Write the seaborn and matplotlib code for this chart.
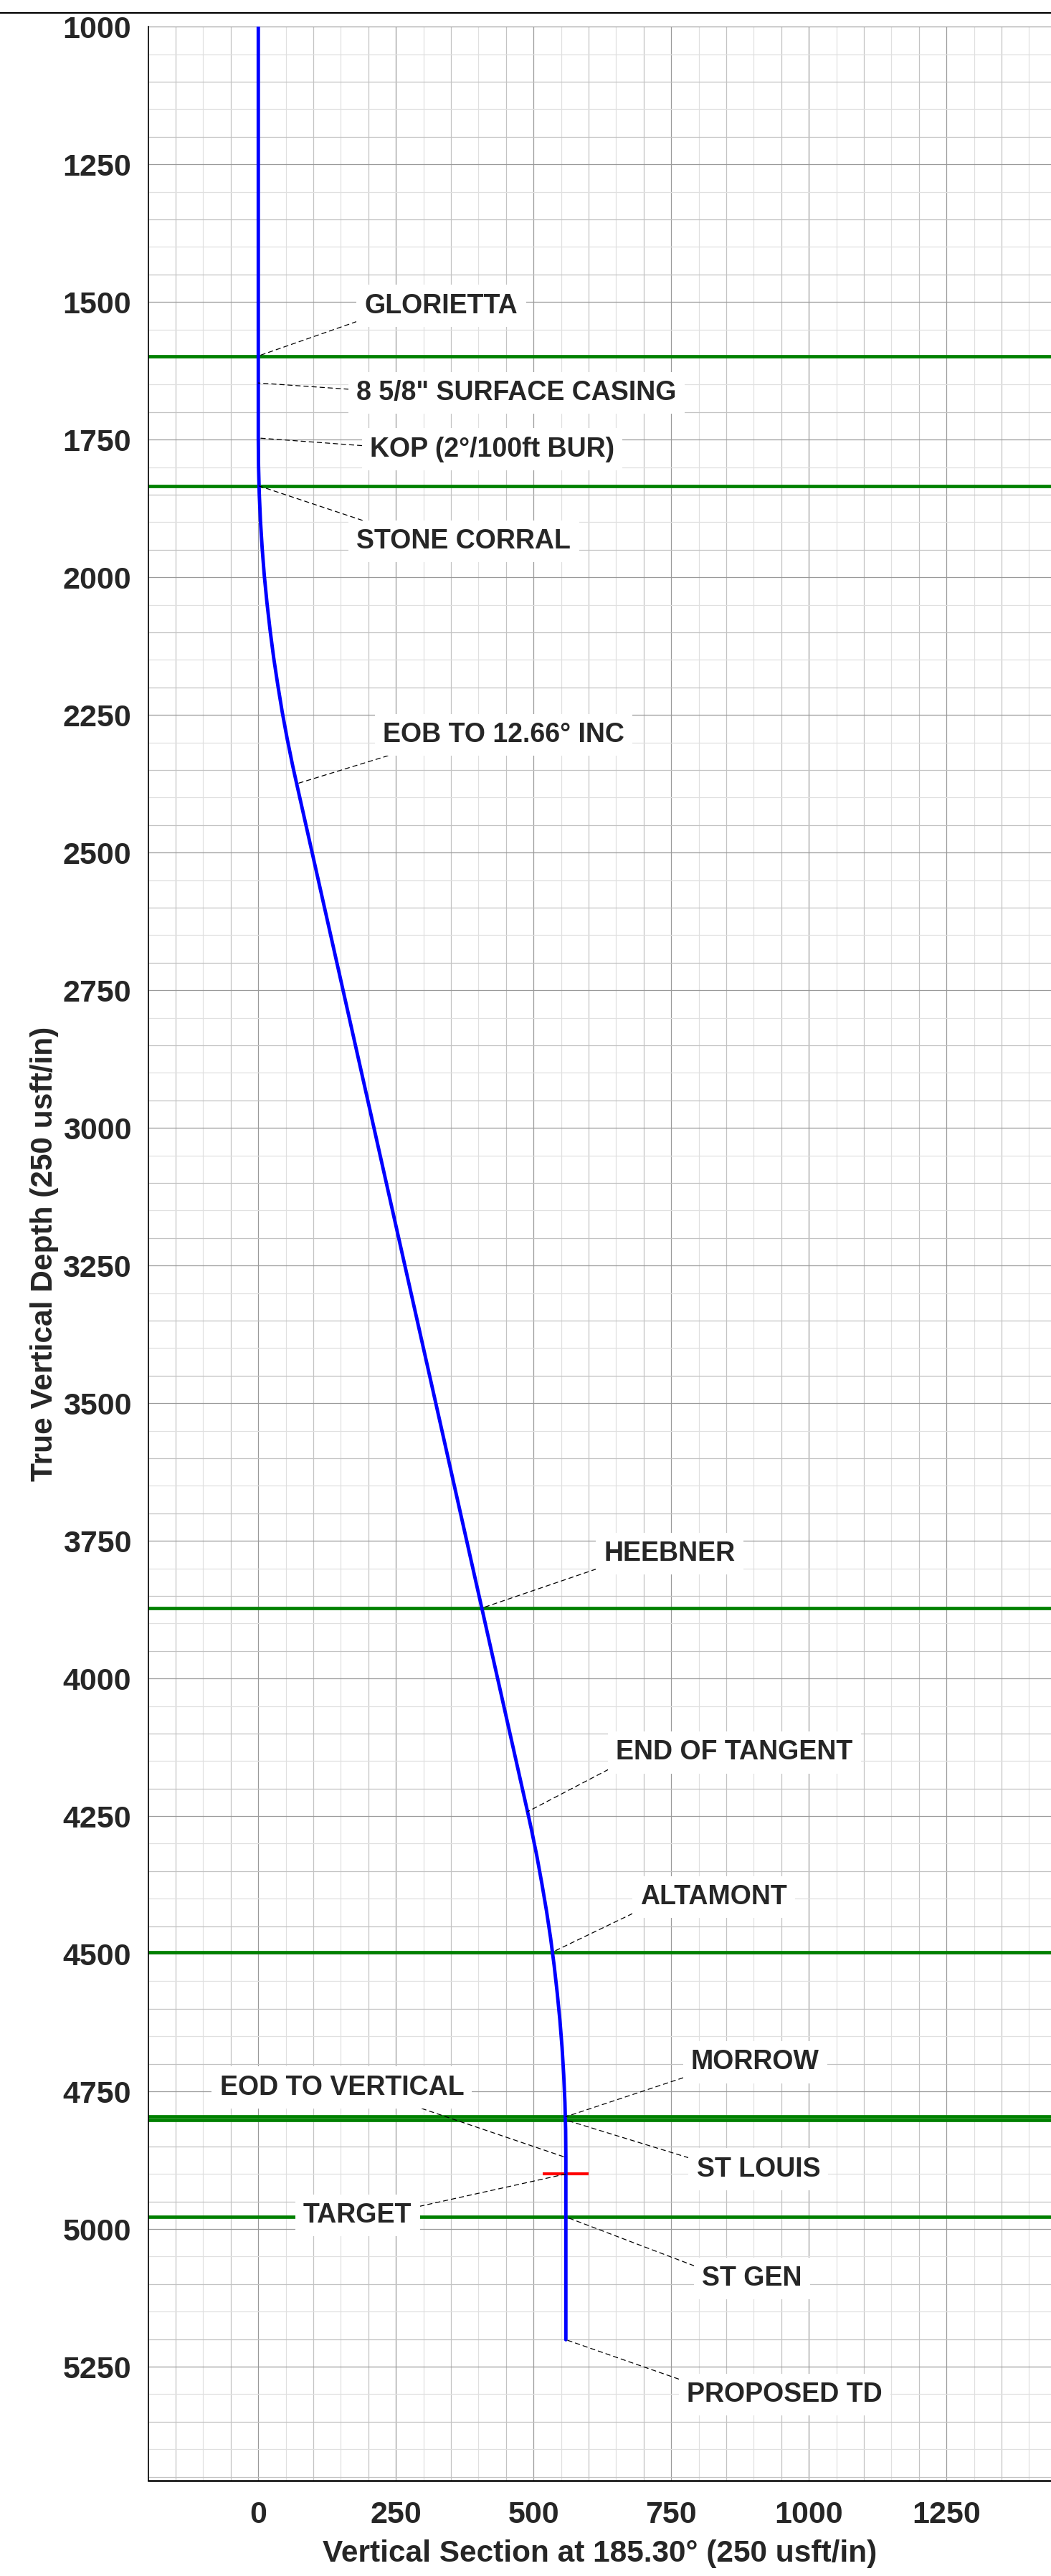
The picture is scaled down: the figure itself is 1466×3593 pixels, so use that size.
import numpy as np
import matplotlib
matplotlib.use("Agg")
import matplotlib.pyplot as plt
import seaborn as sns
from matplotlib.lines import Line2D
from matplotlib.ticker import MultipleLocator

# ─────────────────────────────────────────────
# Data
# ─────────────────────────────────────────────
# well path (vertical section ft, TVD ft)
path_vs = [0.0, 0.0, 0.4, 1.7, 3.9, 7.0, 10.9, 15.7, 21.4, 27.9, 35.3, 43.5,
           52.6, 62.6, 69.7,
           489.0, 496.0, 506.0, 515.1, 523.4, 530.8, 537.3, 542.9, 547.7,
           551.7, 554.7, 556.9, 558.2, 558.6, 558.6]
path_tvd = [1000, 1747, 1797, 1847, 1897, 1947, 1997, 2046, 2096, 2146, 2195,
            2245, 2294, 2343, 2375,
            4242, 4274, 4323, 4373, 4422, 4471, 4521, 4571, 4620,
            4670, 4720, 4770, 4820, 4870, 5201]

# formation tops (TVD)
top_names = ["GLORIETTA", "STONE CORRAL", "HEEBNER", "ALTAMONT",
             "MORROW", "ST LOUIS", "ST GEN"]
top_tvd = [1598, 1834, 3872, 4497, 4796, 4802, 4978]

# target
target_vs = 558.6
target_tvd = 4900

# labelled points on the well
note_text = ["GLORIETTA", '8 5/8" SURFACE CASING', "KOP (2°/100ft BUR)",
             "STONE CORRAL", "EOB TO 12.66° INC", "HEEBNER", "END OF TANGENT",
             "ALTAMONT", "MORROW", "EOD TO VERTICAL", "ST LOUIS", "TARGET",
             "ST GEN", "PROPOSED TD"]
note_vs = [0.0, 0.0, 0.0, 1.3, 69.7, 406.6, 489.0,
           534.3, 558.6, 558.6, 558.6, 558.6, 558.6, 558.6]
note_tvd = [1598, 1647, 1747, 1834, 2375, 3872, 4242,
            4497, 4796, 4870, 4802, 4900, 4978, 5201]

# label placement (text left edge, text centre depth, leader anchor on box)
label_x = [193, 178.5, 202.7, 178.5, 226, 628, 650, 694, 786, -70, 796, 81.6, 806, 778]
label_y = [1507, 1665, 1767.5, 1934.6, 2286, 3773, 4134.5, 4396.7, 4697, 4743,
           4891.4, 4975, 5089.6, 5301]
label_rel = [(0, 0), (0, 0.62), (0, 0.62), (0.14, 1), (0.13, 0), (0, 0), (0, 0),
             (0, 0), (0, 0), (0.73, 0), (0, 0.85), (1, 0.78), (0, 0.87), (0, 1)]

# ─────────────────────────────────────────────
# Style
# ─────────────────────────────────────────────
sns.set_theme(style="white")
plt.rcParams["font.family"] = ["Liberation Sans", "DejaVu Sans"]
plt.rcParams["font.weight"] = "bold"
plt.rcParams["axes.labelweight"] = "bold"

W, H = 1466, 3593
fig = plt.figure(figsize=(W / 100, H / 100), dpi=100)
x_left, x_right = -200, 1440
y_top, y_bot = 1000, 5457
ax = fig.add_axes([206.7 / W, 1 - 3460 / H, (1466.2 - 206.7) / W, (3460 - 37.3) / H])

# grid: every 50 ft, darker on 250s, mid on 100/200 offsets
GRID_DARK, GRID_MID, GRID_LIGHT = "#9a9a9a", "#c3c3c3", "#e0e0e0"


def grid_colour(v):
    r = v % 250
    if r == 0:
        return GRID_DARK
    if r in (100, 200):
        return GRID_MID
    return GRID_LIGHT


for v in np.arange(-200, x_right + 1, 50):
    ax.axvline(v, color=grid_colour(v), lw=0.9, zorder=0)
for v in np.arange(1000, y_bot + 1, 50):
    ax.axhline(v, color=grid_colour(v), lw=0.9, zorder=0)

# formation tops
for t in top_tvd:
    ax.axhline(t, color="#008000", lw=3.4, solid_capstyle="round", zorder=2)

# target marker
ax.plot([target_vs], [target_tvd], marker="_", color="red", markersize=46,
        markeredgewidth=3.0, zorder=2.5)

# well path
sns.lineplot(x=path_vs, y=path_tvd, sort=False, estimator=None, color="blue",
             lw=3.5, ax=ax, zorder=3, solid_capstyle="round")

# labels
for txt, px, py, tx, ty, rel in zip(note_text, note_vs, note_tvd,
                                    label_x, label_y, label_rel):
    ax.annotate(txt, xy=(px, py), xytext=(tx, ty), ha="left", va="center",
                fontsize=27, fontweight="bold", zorder=5,
                bbox=dict(boxstyle="square,pad=0.3", fc="white", ec="none"),
                arrowprops=dict(arrowstyle="-", color="black", lw=0.9,
                                linestyle=(0, (5, 4)), relpos=rel,
                                shrinkA=0, shrinkB=0))

# axes
ax.set_xlim(x_left, x_right)
ax.set_ylim(y_bot, y_top)
ax.xaxis.set_major_locator(MultipleLocator(250))
ax.xaxis.set_minor_locator(MultipleLocator(50))
ax.yaxis.set_major_locator(MultipleLocator(250))
ax.yaxis.set_minor_locator(MultipleLocator(50))
ax.tick_params(axis="both", which="major", length=14, width=0.9, color="black",
               labelsize=31, direction="out", pad=3)
ax.tick_params(axis="both", which="minor", length=7, width=0.9, color="black",
               direction="out")
ax.tick_params(axis="x", which="major", pad=6)
ax.grid(False)

for side in ["top", "right"]:
    ax.spines[side].set_visible(False)
ax.spines["left"].set_color("black")
ax.spines["left"].set_linewidth(1.2)
ax.spines["bottom"].set_color("black")
ax.spines["bottom"].set_linewidth(1.8)

ax.set_xlabel("Vertical Section at 185.30° (250 usft/in)", fontsize=30.5,
              fontweight="bold", labelpad=10)
ax.set_ylabel("True Vertical Depth (250 usft/in)", fontsize=30.5,
              fontweight="bold", labelpad=4)

# page frame line above the plot
fig.add_artist(Line2D([0, 1], [1 - 18.3 / H, 1 - 18.3 / H],
                      transform=fig.transFigure, color="black", lw=1.6))

fig.savefig("out.png", dpi=100)
plt.close(fig)
